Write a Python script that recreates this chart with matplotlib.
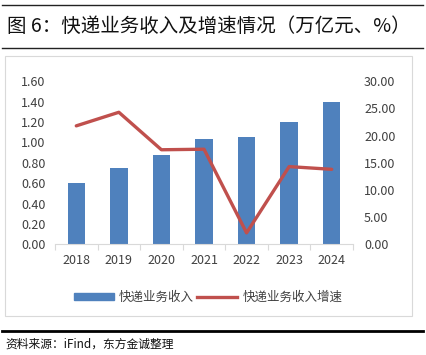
import matplotlib

matplotlib.use("Agg")
import matplotlib.pyplot as plt  # noqa: E402
from matplotlib.lines import Line2D  # noqa: E402
from matplotlib.patches import Patch, Rectangle  # noqa: E402
import numpy as np  # noqa: E402

plt.rcParams["font.family"] = ["Noto Sans CJK SC", "DejaVu Sans"]

# dados
anos = ["2018", "2019", "2020", "2021", "2022", "2023", "2024"]
receita = [0.60, 0.75, 0.88, 1.03, 1.05, 1.20, 1.40]      # 万亿元
crescimento = [21.8, 24.3, 17.4, 17.5, 2.1, 14.3, 13.8]   # %

AZUL = "#4F81BD"
VERMELHO = "#C0504D"
TEXTO = "#404040"

fig = plt.figure(figsize=(4.27, 3.55), dpi=100)

# cabeçalho e rodapé
fig.add_artist(Line2D([0.005, 0.99], [1 - 5 / 355] * 2, color="#222222", lw=1.0))
fig.add_artist(Line2D([0.005, 0.99], [1 - 48 / 355] * 2, color="#222222", lw=1.0))
fig.text(7 / 427, 1 - 26 / 355, "图 6：快递业务收入及增速情况（万亿元、%）",
         fontsize=14, fontweight="medium", color="#111111", va="center", ha="left")
fig.add_artist(Rectangle((5 / 427, 1 - 316 / 355), 407 / 427, 260 / 355,
                         fill=False, edgecolor="#D9D9D9", lw=0.8))
fig.add_artist(Line2D([0.005, 0.99], [1 - 331 / 355] * 2, color="#000000", lw=2.0))
fig.text(5 / 427, 1 - 344 / 355, "资料来源：iFind，东方金诚整理",
         fontsize=8.5, color="#111111", va="center", ha="left")

ax = fig.add_axes([55 / 427, 1 - 244.3 / 355, 298 / 427, 163 / 355])
x = np.arange(len(anos))
ax.bar(x, receita, width=0.41, color=AZUL, zorder=2)
ax.set_xlim(-0.5, len(anos) - 0.5)
ax.set_ylim(0, 1.6)
ax.set_yticks(np.arange(0, 1.61, 0.2))
ax.set_yticklabels([f"{v:.2f}" for v in np.arange(0, 1.61, 0.2)])
ax.set_xticks(x, anos)
ax.set_xticks(np.arange(-0.5, len(anos), 1), minor=True)
ax.tick_params(axis="x", which="major", length=0, pad=7, labelsize=9, labelcolor=TEXTO)
ax.tick_params(axis="x", which="minor", length=4, color="#D9D9D9", width=0.8)
ax.tick_params(axis="y", length=0, pad=7, labelsize=9, labelcolor=TEXTO)
for lado in ("top", "left", "right"):
    ax.spines[lado].set_visible(False)
ax.spines["bottom"].set_color("#D9D9D9")
ax.spines["bottom"].set_linewidth(0.8)

ax2 = ax.twinx()
ax2.plot(x, crescimento, color=VERMELHO, lw=2.4, solid_capstyle="round", zorder=3)
ax2.set_ylim(0, 30)
ax2.set_yticks(np.arange(0, 31, 5))
ax2.set_yticklabels([f"{v:.2f}" for v in np.arange(0, 31, 5)])
ax2.tick_params(axis="y", length=0, pad=8, labelsize=9, labelcolor=TEXTO)
for lado in ax2.spines:
    ax2.spines[lado].set_visible(False)

alcas = [Patch(color=AZUL), Line2D([0], [0], color=VERMELHO, lw=2.4)]
fig.legend(alcas, ["快递业务收入", "快递业务收入增速"], loc="center",
           bbox_to_anchor=(208 / 427, 1 - 297 / 355), ncol=2, frameon=False,
           fontsize=9, handlelength=3.2, handleheight=0.5, handletextpad=0.4,
           columnspacing=0.3, labelcolor=TEXTO)

fig.savefig("out.png", dpi=100)
